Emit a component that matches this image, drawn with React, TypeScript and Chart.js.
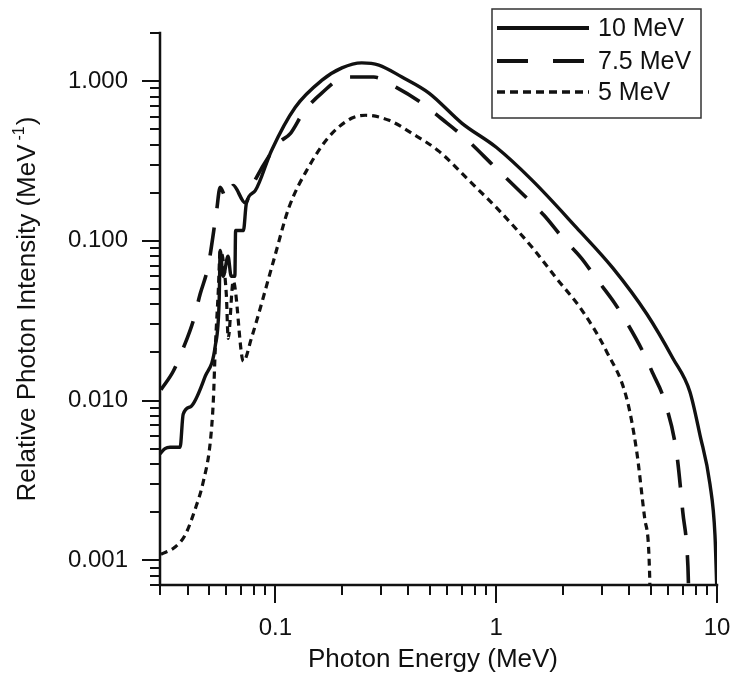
import React, { useEffect, useRef } from 'react';
import { Chart, registerables } from 'chart.js';

Chart.register(...registerables);

// ---------- data ----------
const seriesLabels = ['10 MeV', '7.5 MeV', '5 MeV'];

const energy10 = [0.030, 0.0316, 0.0333, 0.037, 0.0382, 0.0415, 0.0481, 0.0534, 0.0556, 0.0562, 0.058, 0.061, 0.063, 0.0655, 0.066, 0.0716, 0.0738, 0.081, 0.096, 0.123, 0.162, 0.2, 0.246, 0.294, 0.374, 0.496, 0.70, 1.0, 1.46, 2.31, 3.37, 4.81, 6.31, 7.53, 8.37, 9.29, 9.79, 10];
const intensity10 = [0.00464, 0.0050, 0.0051, 0.0051, 0.0082, 0.0092, 0.0142, 0.022, 0.042, 0.087, 0.060, 0.080, 0.060, 0.060, 0.116, 0.116, 0.171, 0.206, 0.368, 0.686, 1.01, 1.21, 1.30, 1.26, 1.06, 0.841, 0.544, 0.385, 0.238, 0.121, 0.0677, 0.0348, 0.0184, 0.0114, 0.0061, 0.0030, 0.00144, 0.0006];

const energy75 = [0.0303, 0.0344, 0.0382, 0.0424, 0.0456, 0.0496, 0.054, 0.0562, 0.0599, 0.0644, 0.073, 0.0794, 0.103, 0.117, 0.134, 0.162, 0.208, 0.279, 0.351, 0.461, 0.562, 0.716, 0.98, 1.31, 1.65, 1.97, 2.43, 2.85, 3.44, 3.94, 4.61, 5.12, 5.80, 6.58, 7.0, 7.38, 7.45];
const intensity75 = [0.0117, 0.0152, 0.0212, 0.0314, 0.0464, 0.0696, 0.150, 0.216, 0.184, 0.222, 0.173, 0.228, 0.407, 0.471, 0.638, 0.841, 1.06, 1.06, 0.917, 0.727, 0.585, 0.445, 0.292, 0.198, 0.144, 0.107, 0.078, 0.0577, 0.0407, 0.0301, 0.0203, 0.0148, 0.00986, 0.00457, 0.0020, 0.00093, 0.0006];

const energy5 = [0.0303, 0.0351, 0.039, 0.0433, 0.0471, 0.0507, 0.0523, 0.0534, 0.0551, 0.0562, 0.0599, 0.0611, 0.0644, 0.0716, 0.0778, 0.098, 0.115, 0.141, 0.174, 0.221, 0.256, 0.327, 0.415, 0.551, 0.754, 1.03, 1.46, 1.87, 2.46, 3.16, 3.90, 4.33, 4.71, 4.96, 4.97];
const intensity5 = [0.00109, 0.00121, 0.00144, 0.00209, 0.0031, 0.00552, 0.00986, 0.0212, 0.0485, 0.0865, 0.0464, 0.0245, 0.056, 0.0176, 0.0245, 0.0748, 0.161, 0.288, 0.445, 0.585, 0.611, 0.568, 0.471, 0.363, 0.238, 0.155, 0.0904, 0.0585, 0.0363, 0.0203, 0.0103, 0.00478, 0.00181, 0.00076, 0.0006];

const xTickValues = [0.1, 1, 10];
const xTickText = ['0.1', '1', '10'];
const yTickValues = [1, 0.1, 0.01, 0.001];
const yTickText = ['1.000', '0.100', '0.010', '0.001'];

const xTitle = 'Photon Energy (MeV)';
const yTitleMain = 'Relative Photon Intensity (MeV';
const yTitleSup = '-1';
const yTitleEnd = ')';

// ---------- styles ----------
const INK = '#111111';
const FONT = "'Liberation Sans', Arial, Helvetica, sans-serif";
const lineWidths = [3.4, 3.6, 3.2];
const lineDashes: number[][] = [[], [28, 20], [7, 5]];
const legendDashes: number[][] = [[], [31, 25], [8, 5]];

const mantissa = (v: number) => v / Math.pow(10, Math.floor(Math.log10(v) + 1e-9));
const isIntMantissa = (v: number) => {
  const m = mantissa(v);
  return Math.abs(m - Math.round(m)) < 1e-6;
};
const isDecade = (v: number) => Math.abs(mantissa(v) - 1) < 1e-6;
const lookup = (v: number, vals: number[], txt: string[]) => {
  const i = vals.findIndex((d) => Math.abs(v - d) / d < 1e-6);
  return i >= 0 ? txt[i] : '';
};

const toPoints = (xs: number[], ys: number[]) => xs.map((x, i) => ({ x, y: ys[i] }));

const zeroPad = (s: any) => {
  s.paddingTop = 0;
  s.paddingBottom = 0;
  s.paddingLeft = 0;
  s.paddingRight = 0;
};

const sciPlugin = {
  id: 'sciAxes',
  afterDraw(chart: any) {
    const { ctx, chartArea: a, scales } = chart;
    const xs = scales.x;
    const ys = scales.y;
    ctx.save();
    ctx.strokeStyle = INK;
    ctx.fillStyle = INK;
    // axis lines
    ctx.lineWidth = 2.5;
    ctx.lineCap = 'square';
    ctx.setLineDash([]);
    ctx.beginPath();
    ctx.moveTo(a.left, a.top);
    ctx.lineTo(a.left, a.bottom);
    ctx.lineTo(a.right, a.bottom);
    ctx.stroke();
    // tick marks
    ctx.lineWidth = 2;
    ctx.lineCap = 'butt';
    ctx.beginPath();
    xs.ticks.forEach((t: any) => {
      const px = Math.round(xs.getPixelForValue(t.value));
      const len = isDecade(t.value) ? 18 : 10;
      ctx.moveTo(px, a.bottom);
      ctx.lineTo(px, a.bottom + len);
    });
    ys.ticks.forEach((t: any) => {
      const py = Math.round(ys.getPixelForValue(t.value));
      const len = isDecade(t.value) ? 18 : 10;
      ctx.moveTo(a.left, py);
      ctx.lineTo(a.left - len, py);
    });
    ctx.stroke();

    // x title
    ctx.font = `26px ${FONT}`;
    ctx.textAlign = 'center';
    ctx.textBaseline = 'middle';
    ctx.fillText(xTitle, 433, 660);

    // y title with superscript
    ctx.save();
    ctx.translate(28, (a.top + a.bottom) / 2);
    ctx.rotate(-Math.PI / 2);
    ctx.textAlign = 'left';
    ctx.font = `26px ${FONT}`;
    const w1 = ctx.measureText(yTitleMain).width;
    const w3 = ctx.measureText(yTitleEnd).width;
    ctx.font = `16px ${FONT}`;
    const w2 = ctx.measureText(yTitleSup).width;
    const total = w1 + 4 + w2 + 1 + w3;
    const x0 = -total / 2;
    ctx.font = `26px ${FONT}`;
    ctx.fillText(yTitleMain, x0, 0);
    ctx.font = `16px ${FONT}`;
    ctx.fillText(yTitleSup, x0 + w1 + 4, -8);
    ctx.font = `26px ${FONT}`;
    ctx.fillText(yTitleEnd, x0 + w1 + 4 + w2 + 1, 0);
    ctx.restore();

    // legend
    const lx = 492, ly = 9, lw = 209, lh = 109;
    ctx.fillStyle = '#ffffff';
    ctx.fillRect(lx, ly, lw, lh);
    ctx.strokeStyle = '#333333';
    ctx.lineWidth = 1.5;
    ctx.setLineDash([]);
    ctx.strokeRect(lx, ly, lw, lh);
    const rowY = [28, 61, 92];
    ctx.font = `25px ${FONT}`;
    ctx.textAlign = 'left';
    ctx.textBaseline = 'middle';
    seriesLabels.forEach((lab, i) => {
      ctx.strokeStyle = INK;
      ctx.lineWidth = lineWidths[i] + 0.5;
      ctx.setLineDash(legendDashes[i]);
      ctx.beginPath();
      ctx.moveTo(497, rowY[i]);
      ctx.lineTo(589, rowY[i]);
      ctx.stroke();
      ctx.setLineDash([]);
      ctx.fillStyle = INK;
      ctx.fillText(lab, 598, rowY[i] + 1);
    });
    ctx.restore();
  },
};

export default function App() {
  const canvasRef = useRef<HTMLCanvasElement | null>(null);

  useEffect(() => {
    const canvas = canvasRef.current;
    if (!canvas) return;
    const series = [
      toPoints(energy10, intensity10),
      toPoints(energy75, intensity75),
      toPoints(energy5, intensity5),
    ];
    const chart = new Chart(canvas, {
      type: 'line',
      data: {
        datasets: series.map((pts, i) => ({
          label: seriesLabels[i],
          data: pts,
          borderColor: INK,
          backgroundColor: INK,
          borderWidth: lineWidths[i],
          borderDash: lineDashes[i],
          pointRadius: 0,
          fill: false,
          tension: 0,
          cubicInterpolationMode: 'monotone' as const,
        })),
      },
      options: {
        animation: false,
        responsive: false,
        maintainAspectRatio: false,
        layout: { padding: { top: 33, right: 13, bottom: 0, left: 0 } },
        plugins: { legend: { display: false }, tooltip: { enabled: false } },
        scales: {
          x: {
            type: 'logarithmic',
            min: 0.03,
            max: 10,
            afterBuildTicks: (s: any) => {
              s.ticks = s.ticks.filter((t: any) => isIntMantissa(t.value));
            },
            afterFit: (s: any) => {
              s.height = 88;
              zeroPad(s);
            },
            grid: { display: false, drawTicks: false },
            border: { display: false },
            ticks: {
              autoSkip: false,
              maxRotation: 0,
              minRotation: 0,
              padding: 29,
              color: INK,
              font: { family: FONT, size: 24 },
              callback: (v: any) => lookup(Number(v), xTickValues, xTickText),
            },
          },
          y: {
            type: 'logarithmic',
            min: 0.0007,
            max: 2,
            afterBuildTicks: (s: any) => {
              s.ticks = s.ticks.filter((t: any) => isIntMantissa(t.value));
            },
            afterFit: (s: any) => {
              s.width = 160;
              zeroPad(s);
            },
            grid: { display: false, drawTicks: false },
            border: { display: false },
            ticks: {
              autoSkip: false,
              padding: 32,
              color: INK,
              font: { family: FONT, size: 24 },
              callback: (v: any) => lookup(Number(v), yTickValues, yTickText),
            },
          },
        },
      },
      plugins: [sciPlugin],
    });
    return () => chart.destroy();
  }, []);

  return (
    <div style={{ position: 'absolute', left: 0, top: 0, width: 730, height: 673, background: '#ffffff' }}>
      <canvas ref={canvasRef} width={730} height={673} style={{ width: 730, height: 673, display: 'block' }} />
    </div>
  );
}
